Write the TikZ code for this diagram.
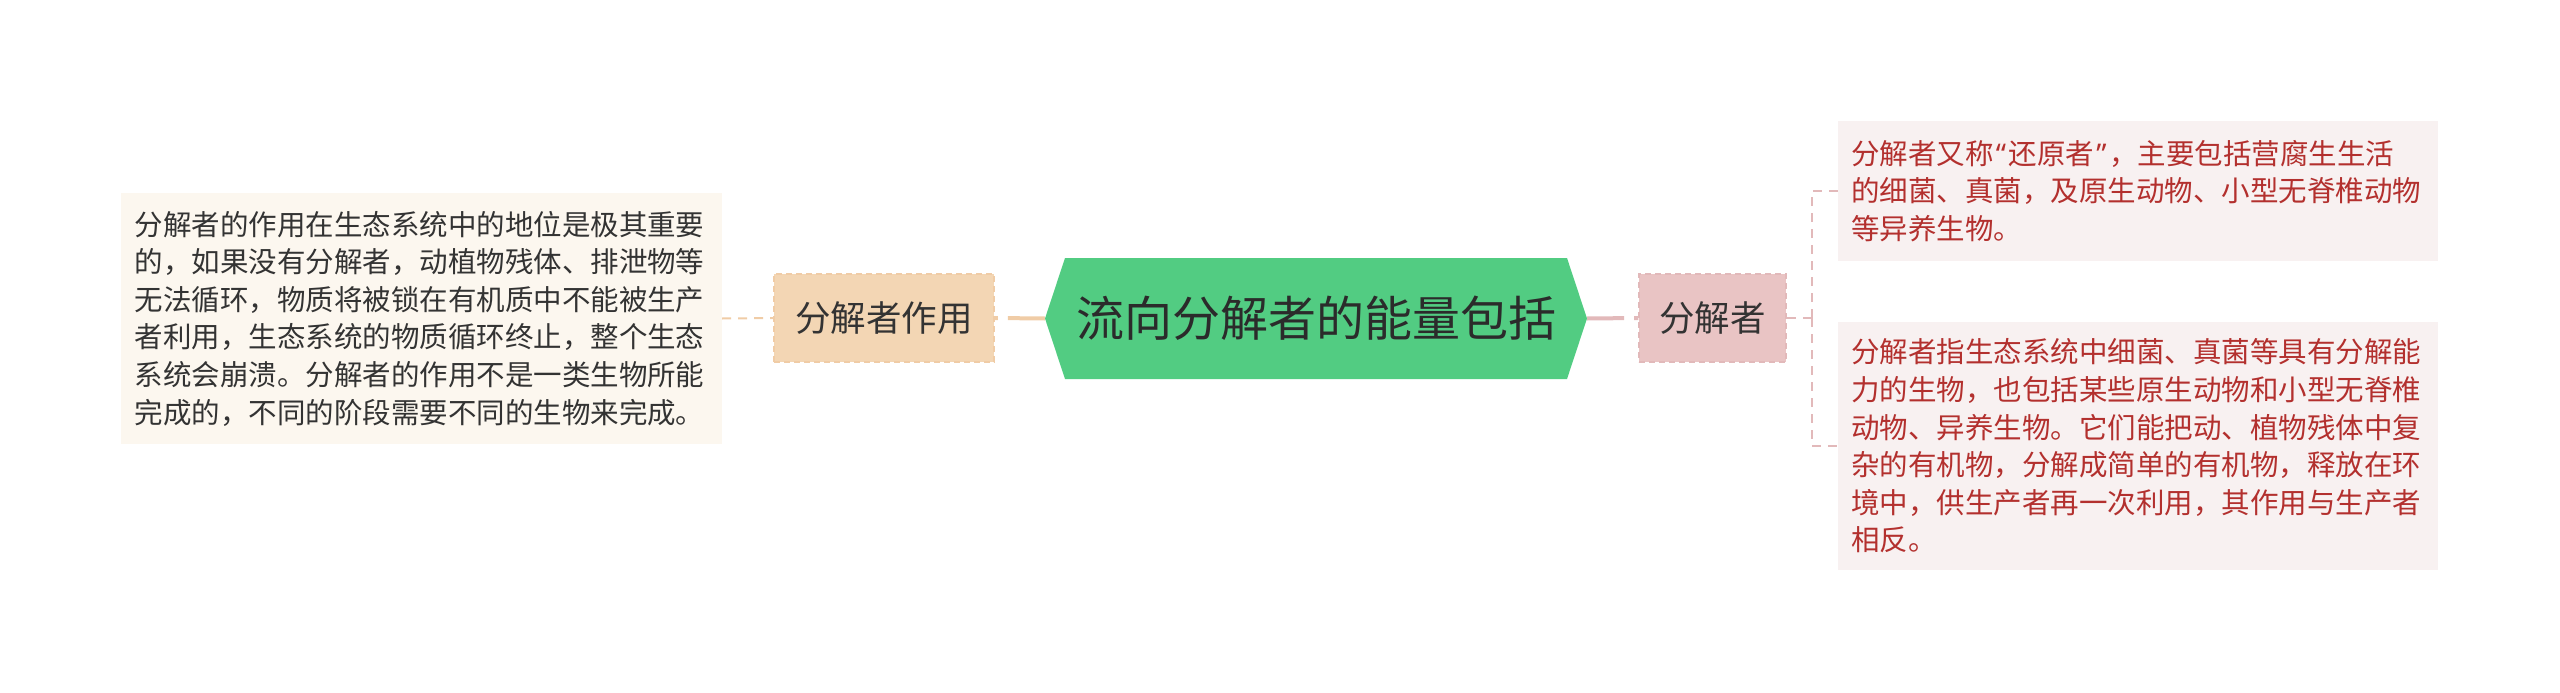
\documentclass[tikz,border=0pt]{standalone}
\usepackage{fontspec}
\setmainfont{Noto Sans CJK SC}
\newfontfamily\quotefont{Noto Sans}
\usepackage{xcolor}
\usetikzlibrary{positioning}

\definecolor{rootgreen}{HTML}{52CC82}
\definecolor{roottext}{HTML}{2B2B2B}
\definecolor{tanfill}{HTML}{F3D6B4}
\definecolor{tanline}{HTML}{F0CCA6}
\definecolor{pinkfill}{HTML}{E9C4C4}
\definecolor{pinkline}{HTML}{E2B9BA}
\definecolor{creamfill}{HTML}{FCF7EF}
\definecolor{rosefill}{HTML}{F8F1F1}
\definecolor{redtext}{HTML}{B3302E}
\definecolor{darktext}{HTML}{333333}

\newcommand{\leaffont}{\fontsize{28.5pt}{37.6pt}\selectfont}
\newcommand{\branchfont}{\fontsize{35.5pt}{42pt}\selectfont}
\newcommand{\rootfont}{\fontsize{48pt}{56pt}\selectfont}
\newcommand{\quotemark}[1]{\makebox[15pt][c]{\quotefont #1}}

\begin{document}
\begin{tikzpicture}[x=1pt, y=-1pt,
  leaf/.style={inner sep=0pt, align=left, text width=574pt, font=\leaffont},
  branchbox/.style={inner sep=0pt, minimum height=88, font=\branchfont,
    text=darktext, dashed, dash pattern=on 6pt off 4pt, line width=1.5pt},
  rootnode/.style={inner sep=0pt, minimum width=542, minimum height=121,
    font=\rootfont, text=roottext, fill=white,
    path picture={\fill[rootgreen]
      ([xshift=20pt]path picture bounding box.north west)
      -- ([xshift=-20pt]path picture bounding box.north east)
      -- (path picture bounding box.east)
      -- ([xshift=-20pt]path picture bounding box.south east)
      -- ([xshift=20pt]path picture bounding box.south west)
      -- (path picture bounding box.west) -- cycle;}},
  dashlink/.style={line width=2pt, dash pattern=on 9pt off 7pt},
  thicklink/.style={line width=4pt, dash pattern=on 37pt off 10pt}]
\useasboundingbox (0,0) rectangle (2560,693);

\node[rootnode] (root) at (1316,318.5) {流向分解者的能量包括};

\node[branchbox, fill=tanfill, draw=tanline, minimum width=220] (role) at (884,318) {分解者作用};
\node[branchbox, fill=pinkfill, draw=pinkline, minimum width=147] (decomp) at (1712.5,318) {分解者};

\node[leaf, fill=creamfill, text=darktext, minimum width=601, minimum height=251] (rolenote) at (421.5,318.5)
  {分解者的作用在生态系统中的地位是极其重要\\的，如果没有分解者，动植物残体、排泄物等\\无法循环，物质将被锁在有机质中不能被生产\\者利用，生态系统的物质循环终止，整个生态\\系统会崩溃。分解者的作用不是一类生物所能\\完成的，不同的阶段需要不同的生物来完成。};

\node[leaf, fill=rosefill, text=redtext, minimum width=600, minimum height=140] (namenote) at (2138,191)
  {分解者又称\quotemark{“}还原者\quotemark{”}，主要包括营腐生生活\\的细菌、真菌，及原生动物、小型无脊椎动物\\等异养生物。};
\node[leaf, fill=rosefill, text=redtext, minimum width=600, minimum height=248] (defnote) at (2138,446)
  {分解者指生态系统中细菌、真菌等具有分解能\\力的生物，也包括某些原生动物和小型无脊椎\\动物、异养生物。它们能把动、植物残体中复\\杂的有机物，分解成简单的有机物，释放在环\\境中，供生产者再一次利用，其作用与生产者\\相反。};

\coordinate (fork) at (1812,318);

\draw[thicklink, tanline] (root.west) -- (role.east);
\draw[dashlink, tanline] (rolenote.east) -- (role.west);
\draw[thicklink, pinkline] (root.east) -- (decomp.west);
\draw[dashlink, pinkline] (decomp.east) -- (fork);
\draw[dashlink, pinkline] (fork) |- (namenote.west);
\draw[dashlink, pinkline] (fork) |- (defnote.west);
\end{tikzpicture}
\end{document}
